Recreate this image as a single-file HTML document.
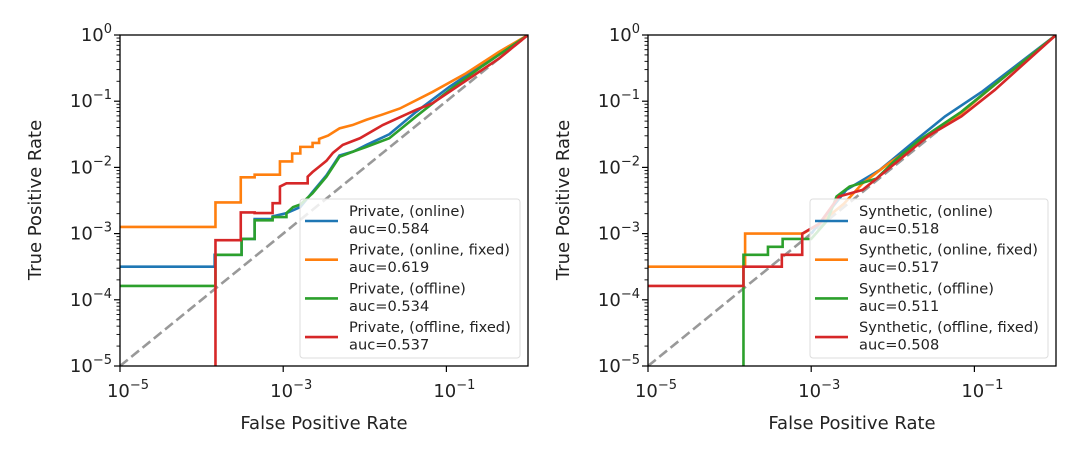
<!DOCTYPE html>
<html><head><meta charset="utf-8"><style>
body{margin:0;background:#fff}
svg{display:block;font-family:"DejaVu Sans","Liberation Sans",sans-serif}
</style></head><body>
<svg id="fig" width="1080" height="463" viewBox="0 0 1080 463"></svg>
<script>
// data: log10(fpr), log10(tpr) step points
const leftLabels=["Private, (online)","Private, (online, fixed)","Private, (offline)","Private, (offline, fixed)"];
const leftAuc=["0.584","0.619","0.534","0.537"];
const rightLabels=["Synthetic, (online)","Synthetic, (online, fixed)","Synthetic, (offline)","Synthetic, (offline, fixed)"];
const rightAuc=["0.518","0.517","0.511","0.508"];
const colors=["#1f77b4","#ff7f0e","#2ca02c","#d62728"];
const xTicks=[-5,-3,-1];
const yTicks=[0,-1,-2,-3,-4,-5];
const L_blue=[[-5,-3.5],[-3.84,-3.5],[-3.84,-3.32],[-3.51,-3.32],[-3.51,-3.08],[-3.35,-3.08],[-3.35,-2.78],[-3.13,-2.78],[-3.13,-2.74],[-2.96,-2.69],[-2.79,-2.6],[-2.64,-2.37],[-2.47,-2.12],[-2.31,-1.82],[-2.14,-1.76],[-1.98,-1.66],[-1.7,-1.5],[-1.37,-1.16],[-0.96,-0.78],[-0.56,-0.45],[0,0]];
const L_orange=[[-5,-2.9],[-3.83,-2.9],[-3.83,-2.53],[-3.52,-2.53],[-3.52,-2.15],[-3.35,-2.15],[-3.35,-2.11],[-3.04,-2.11],[-3.04,-1.91],[-2.89,-1.91],[-2.89,-1.79],[-2.79,-1.79],[-2.79,-1.69],[-2.64,-1.69],[-2.64,-1.63],[-2.56,-1.63],[-2.56,-1.57],[-2.45,-1.52],[-2.31,-1.41],[-2.15,-1.36],[-1.98,-1.28],[-1.78,-1.2],[-1.57,-1.11],[-1.17,-0.86],[-0.76,-0.58],[-0.35,-0.25],[0,0]];
const L_green=[[-5,-3.79],[-3.83,-3.79],[-3.83,-3.32],[-3.51,-3.32],[-3.51,-3.08],[-3.35,-3.08],[-3.35,-2.8],[-3.13,-2.8],[-3.13,-2.75],[-2.96,-2.75],[-2.96,-2.69],[-2.88,-2.6],[-2.79,-2.56],[-2.64,-2.39],[-2.47,-2.14],[-2.31,-1.84],[-2.14,-1.76],[-1.98,-1.69],[-1.7,-1.56],[-1.37,-1.23],[-0.96,-0.83],[-0.56,-0.47],[0,0]];
const L_red=[[-3.83,-5.2],[-3.83,-3.1],[-3.52,-3.1],[-3.52,-2.68],[-3.35,-2.68],[-3.35,-2.69],[-3.13,-2.69],[-3.13,-2.54],[-3.04,-2.54],[-3.04,-2.29],[-2.96,-2.24],[-2.7,-2.24],[-2.7,-2.14],[-2.64,-2.07],[-2.56,-1.99],[-2.47,-1.9],[-2.39,-1.78],[-2.27,-1.66],[-2.06,-1.56],[-1.78,-1.36],[-1.37,-1.13],[-1.17,-1.03],[-0.76,-0.69],[-0.35,-0.35],[0,0]];
const R_blue=[[-3.0,-3.0],[-2.57,-2.34],[-2.16,-2.04],[-1.69,-1.56],[-1.36,-1.23],[-0.9,-0.85],[0,0]];
const R_orange=[[-5,-3.5],[-3.81,-3.5],[-3.81,-3.0],[-3.1,-3.0],[-2.9,-2.85],[-2.6,-2.55],[-2.37,-2.24],[-2.05,-1.94],[-1.69,-1.64],[-1.16,-1.18],[-0.75,-0.75],[0,0]];
const R_green=[[-3.83,-5.2],[-3.83,-3.32],[-3.53,-3.32],[-3.53,-3.2],[-3.35,-3.2],[-3.35,-3.08],[-3.0,-3.08],[-2.8,-2.8],[-2.69,-2.44],[-2.53,-2.29],[-2.2,-2.17],[-1.96,-1.88],[-1.69,-1.6],[-1.16,-1.16],[-0.55,-0.55],[0,0]];
const R_red=[[-5,-3.79],[-3.83,-3.79],[-3.83,-3.5],[-3.36,-3.5],[-3.36,-3.32],[-3.11,-3.32],[-3.11,-3.0],[-2.9,-2.85],[-2.66,-2.44],[-2.37,-2.34],[-2.13,-2.1],[-1.56,-1.52],[-1.16,-1.23],[-0.75,-0.83],[0,0]];

const NS="http://www.w3.org/2000/svg";
const svg=document.getElementById('fig');
function mk(tag,attrs,parent){const e=document.createElementNS(NS,tag);for(const k in attrs)e.setAttribute(k,attrs[k]);(parent||svg).appendChild(e);return e;}

function panel(x0,series,labels,aucs,legX,prefix){
  const x1=x0+408, y0=35, y1=366;
  const sx=v=>x0+(v+5)/5*(x1-x0);
  const sy=v=>y1-(v+5)/5*(y1-y0);
  const g=mk('g',{});
  
  
  const cp='clip-'+prefix;
  const c=mk('clipPath',{id:cp},g);mk('rect',{x:x0,y:y0,width:x1-x0,height:y1-y0},c);
  const dg=mk('line',{x1:sx(-5),y1:sy(-5),x2:sx(0),y2:sy(0),stroke:'#999','stroke-width':2.6,'stroke-dasharray':'10,4.5','clip-path':'url(#'+cp+')'},g);
  
  
  series.forEach((s,i)=>{
    const p=mk('polyline',{points:s.map(d=>sx(d[0])+','+sy(d[1])).join(' '),fill:'none',stroke:colors[i],'stroke-width':2.6,'clip-path':'url(#'+cp+')'},g);
    
    
  });
  const fr=mk('rect',{x:x0,y:y0,width:x1-x0,height:y1-y0,fill:'none',stroke:'#000','stroke-width':1.3},g);
  
  
  yTicks.forEach(t=>{
    mk('line',{x1:x0-6,x2:x0,y1:sy(t),y2:sy(t),stroke:'#000','stroke-width':1.2},g);
    if(t>-5)for(let m=2;m<10;m++){const yy=sy(t-1+Math.log10(m));mk('line',{x1:x0-3.5,x2:x0,y1:yy,y2:yy,stroke:'#000','stroke-width':0.9},g);}
    const tx=mk('text',{x:x0-8,y:sy(t)+6,'text-anchor':'end','font-size':18,fill:'#222'},g);
    
    
    tx.innerHTML='10<tspan font-size="13" dy="-8">'+(t===0?'0':'\u2212'+(-t))+'</tspan>';
  });
  xTicks.forEach(t=>{
    mk('line',{x1:sx(t),x2:sx(t),y1:y1,y2:y1+6,stroke:'#000','stroke-width':1.2},g);
    const tx=mk('text',{x:sx(t)+8,y:y1+31,'text-anchor':'middle','font-size':18,fill:'#222'},g);
    
    
    tx.innerHTML='10<tspan font-size="13" dy="-8">\u2212'+(-t)+'</tspan>';
  });
  const xl=mk('text',{x:(x0+x1)/2,y:429,'text-anchor':'middle','font-size':18,fill:'#222'},g);
  
  
  xl.textContent='False Positive Rate';
  const yl=mk('text',{x:0,y:0,'text-anchor':'middle','font-size':18,fill:'#222',transform:'translate('+(x0-79)+',200) rotate(-90)'},g);
  
  
  yl.textContent='True Positive Rate';
  const lg=mk('g',{},g);
  
  
  mk('rect',{x:legX,y:199,width:x1-8-legX,height:159,rx:3,fill:'rgba(255,255,255,0.82)',stroke:'#ddd','stroke-width':1},lg);
  labels.forEach((lb,i)=>{
    const yy=221+i*38.7;
    const e=mk('g',{},lg);
    
    
    mk('line',{x1:legX+5,x2:legX+38,y1:yy,y2:yy,stroke:colors[i],'stroke-width':2.6},e);
    const t1=mk('text',{x:legX+49,y:yy-5,'font-size':14.6,fill:'#222'},e);t1.textContent=lb;
    const t2=mk('text',{x:legX+49,y:yy+12.5,'font-size':14.6,fill:'#222'},e);t2.textContent='auc='+aucs[i];
  });
}
panel(120,[L_blue,L_orange,L_green,L_red],leftLabels,leftAuc,300,'private');
panel(648,[R_blue,R_orange,R_green,R_red],rightLabels,rightAuc,810,'synthetic');
</script>
</body></html>
